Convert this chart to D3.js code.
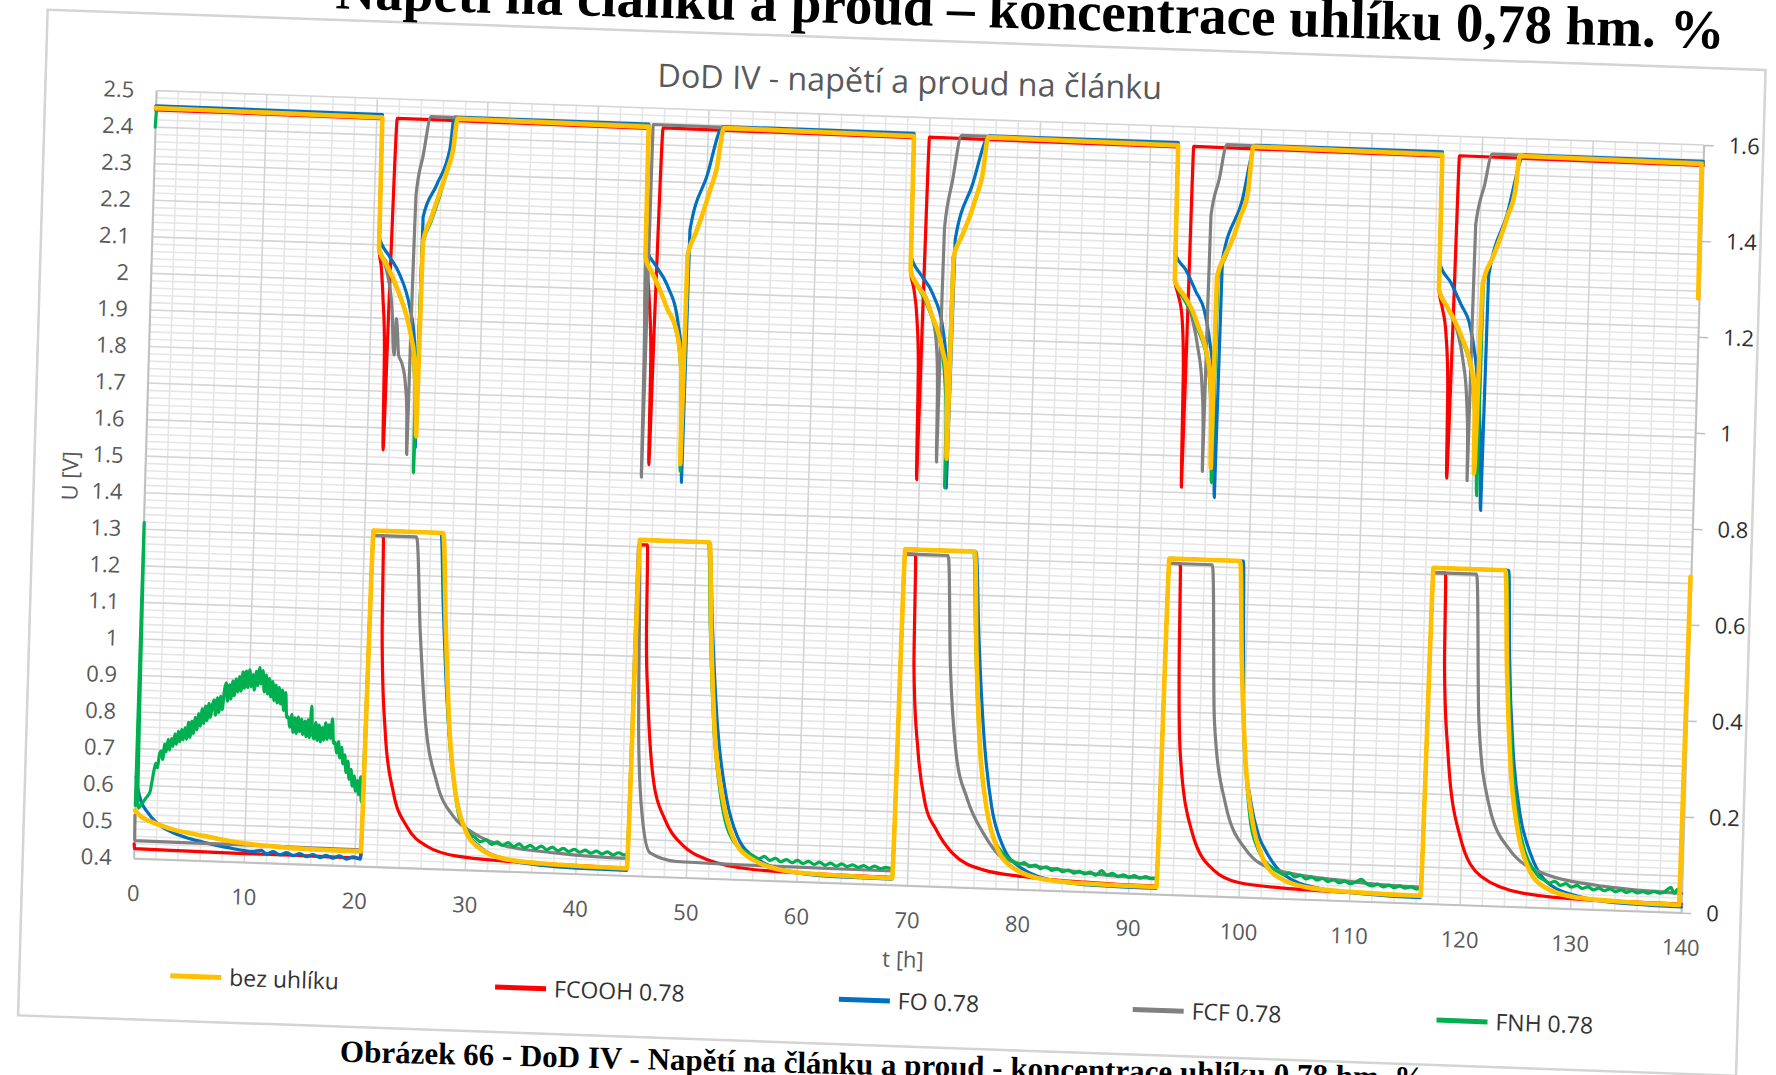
<!DOCTYPE html>
<html><head><meta charset="utf-8">
<script src="https://cdn.jsdelivr.net/npm/d3@7"></script>
<style>html,body{margin:0;padding:0;background:#fff;overflow:hidden}svg{display:block}</style>
</head><body>
<svg id="c" width="1776" height="1075"></svg>
<script>
// ---------------- DATA ----------------
const seriesNames = ["bez uhlíku","FCOOH 0.78","FO 0.78","FCF 0.78","FNH 0.78"];
const seriesColors = ["#FFC000","#FF0000","#0070C0","#808080","#00B050"];
const tTicks = [0,10,20,30,40,50,60,70,80,90,100,110,120,130,140];
const uTicks = [0.4,0.5,0.6,0.7,0.8,0.9,1.0,1.1,1.2,1.3,1.4,1.5,1.6,1.7,1.8,1.9,2.0,2.1,2.2,2.3,2.4,2.5];
const uTickLabels = ["0.4","0.5","0.6","0.7","0.8","0.9","1","1.1","1.2","1.3","1.4","1.5","1.6","1.7","1.8","1.9","2","2.1","2.2","2.3","2.4","2.5"];
const iTicks = [0,0.2,0.4,0.6,0.8,1.0,1.2,1.4,1.6];
const iTickLabels = ["0","0.2","0.4","0.6","0.8","1","1.2","1.4","1.6"];
const chartTitle = "DoD IV - napětí a proud na článku";
const xTitle = "t [h]";
const yTitle = "U [V]";
const pageHeading = "Napětí na článku a proud – koncentrace uhlíku 0,78 hm. %";
const pageCaption = "Obrázek 66 - DoD IV - Napětí na článku a proud - koncentrace uhlíku 0,78 hm. %";

// voltage U [V] (left axis): [t h, U]
const uBez = [[0,2.452],[20.5,2.448],[20.55,2.09],[21.2,2.05],[21.9,2.01],[22.6,1.96],[23.2,1.91],[23.7,1.85],[24.0,1.80],[24.2,1.72],[24.35,1.62],[24.4,1.58],[24.5,2.11],[25.2,2.18],[25.9,2.25],[26.5,2.31],[27.0,2.37],[27.3,2.452],
[44.6,2.448],[44.65,2.09],[45.3,2.05],[46.1,2.00],[46.8,1.95],[47.6,1.90],[48.0,1.84],[48.2,1.78],[48.3,1.68],[48.35,1.53],[48.45,2.10],[49.1,2.16],[49.75,2.22],[50.3,2.28],[50.85,2.34],[51.4,2.452],
[68.6,2.448],[68.65,2.08],[69.3,2.04],[70.05,2.01],[70.7,1.96],[71.35,1.91],[71.8,1.86],[72.1,1.82],[72.3,1.72],[72.4,1.57],[72.5,2.12],[73.2,2.18],[73.8,2.23],[74.4,2.29],[74.9,2.35],[75.3,2.452],
[92.5,2.448],[92.55,2.08],[93.4,2.04],[94.2,2.00],[94.8,1.955],[95.4,1.91],[95.8,1.86],[96.0,1.82],[96.2,1.72],[96.3,1.57],[96.35,2.09],[97.0,2.15],[97.7,2.20],[98.3,2.26],[98.9,2.32],[99.3,2.452],
[116.4,2.448],[116.45,2.08],[117.3,2.03],[118.05,1.99],[118.8,1.94],[119.5,1.88],[119.8,1.83],[120.0,1.75],[120.1,1.58],[120.4,2.10],[121.2,2.17],[121.9,2.23],[122.5,2.29],[123.1,2.36],[123.4,2.452],
[139.85,2.448],[139.9,2.08]];
const uFCOOH = [[0,2.447],[20.5,2.445],[20.55,2.09],[20.8,2.04],[21.05,1.95],[21.3,1.82],[21.45,1.54],[21.6,1.95],[21.85,2.447],
[44.6,2.444],[44.65,2.09],[44.9,2.04],[45.15,1.96],[45.4,1.82],[45.5,1.525],[45.65,1.95],[45.9,2.447],
[68.6,2.444],[68.65,2.08],[69.0,2.03],[69.35,1.95],[69.6,1.82],[69.75,1.51],[69.85,1.95],[70.0,2.447],
[92.5,2.444],[92.55,2.08],[92.9,2.04],[93.3,1.98],[93.55,1.85],[93.7,1.515],[93.8,1.95],[93.9,2.447],
[116.4,2.444],[116.45,2.08],[116.8,2.03],[117.2,1.96],[117.5,1.82],[117.65,1.565],[117.8,1.95],[117.95,2.447],
[140,2.444]];
const uFO = [[0,2.458],[20.5,2.456],[20.55,2.12],[21.5,2.07],[22.5,2.02],[23.5,1.93],[24.0,1.84],[24.25,1.72],[24.35,1.55],[24.45,2.18],[25.6,2.27],[26.7,2.37],[27.0,2.456],
[44.6,2.456],[44.65,2.12],[45.6,2.07],[46.65,2.02],[47.8,1.91],[48.2,1.82],[48.4,1.70],[48.5,1.48],[48.6,2.17],[50.0,2.32],[51.3,2.456],
[68.6,2.456],[68.65,2.12],[69.6,2.07],[70.7,2.02],[71.8,1.91],[72.15,1.82],[72.35,1.70],[72.45,1.49],[72.6,2.17],[74.0,2.32],[75.4,2.456],
[92.5,2.456],[92.55,2.15],[93.5,2.11],[94.5,2.05],[95.3,2.0],[95.9,1.91],[96.3,1.82],[96.55,1.68],[96.7,1.49],[96.8,2.14],[98.4,2.30],[99.5,2.456],
[116.4,2.456],[116.45,2.15],[117.5,2.1],[118.5,2.04],[119.3,1.99],[119.9,1.9],[120.3,1.8],[120.6,1.66],[120.8,1.48],[120.9,2.12],[122.4,2.29],[123.8,2.456],
[140,2.455]];
const uFCF = [[0,2.452],[20.5,2.45],[20.55,2.09],[21.3,2.03],[21.9,1.92],[22.1,1.82],[22.2,1.80],[22.3,1.90],[22.45,1.86],[22.6,1.80],[22.9,1.78],[23.3,1.72],[23.5,1.64],[23.6,1.53],[23.65,1.90],[23.7,2.10],[23.75,2.24],[24.3,2.35],[24.9,2.455],
[44.6,2.452],[44.65,2.10],[44.8,1.80],[44.87,1.49],[44.93,2.0],[45.0,2.455],
[68.6,2.452],[68.65,2.08],[69.4,2.04],[70.1,2.01],[70.7,1.96],[71.2,1.875],[71.4,1.75],[71.5,1.56],[71.55,1.95],[71.6,2.2],[72.2,2.33],[72.9,2.455],
[92.5,2.452],[92.55,2.08],[93.3,2.04],[94.2,1.98],[94.8,1.90],[95.3,1.79],[95.5,1.68],[95.55,1.56],[95.6,2.0],[95.65,2.26],[96.3,2.36],[96.9,2.455],
[116.4,2.452],[116.45,2.08],[117.3,2.03],[118.2,1.97],[118.8,1.89],[119.25,1.78],[119.45,1.66],[119.5,1.56],[119.55,2.0],[119.6,2.26],[120.3,2.37],[120.9,2.455],
[140,2.452]];
const uFNH = [[0,2.40],[0.1,2.452],[20.5,2.45],[20.55,2.09],[21.3,2.05],[22.0,2.0],[22.7,1.95],[23.3,1.9],[23.75,1.84],[24.05,1.76],[24.2,1.66],[24.25,1.48],[24.3,1.62],[24.45,2.1],[25.2,2.17],[25.9,2.24],[26.5,2.31],[27.0,2.37],[27.3,2.452],
[44.6,2.45],[44.65,2.09],[45.3,2.05],[46.1,2.0],[46.8,1.95],[47.6,1.895],[48.0,1.83],[48.2,1.75],[48.3,1.65],[48.35,1.51],[48.45,2.1],[49.1,2.16],[49.75,2.22],[50.3,2.28],[50.85,2.34],[51.4,2.452],
[68.6,2.45],[68.65,2.08],[69.3,2.04],[70.05,2.0],[70.7,1.955],[71.35,1.9],[71.8,1.85],[72.05,1.78],[72.25,1.68],[72.3,1.49],[72.45,2.12],[73.2,2.18],[73.8,2.23],[74.4,2.29],[74.9,2.35],[75.3,2.452],
[92.5,2.45],[92.55,2.08],[93.4,2.03],[94.2,1.99],[94.8,1.945],[95.4,1.9],[95.8,1.85],[96.05,1.78],[96.25,1.68],[96.4,1.53],[96.45,2.09],[97.1,2.15],[97.7,2.2],[98.3,2.26],[98.9,2.33],[99.3,2.452],
[116.4,2.45],[116.45,2.08],[117.3,2.03],[118.05,1.985],[118.8,1.935],[119.5,1.87],[119.85,1.8],[120.1,1.7],[120.3,1.6],[120.4,1.52],[120.45,2.1],[121.2,2.17],[121.9,2.23],[122.5,2.29],[123.1,2.36],[123.4,2.452],
[140,2.45]];

// current I (right axis): [t h, I]
const iBez = [[0,0.10],[0.5,0.088],[1.4,0.078],[2.4,0.07],[3.5,0.0625],[5,0.056],[6.5,0.051],[8,0.045],[9.6,0.040],[11,0.037],[12.6,0.035],[14,0.033],[15.6,0.032],[18,0.031],[20.5,0.031],[20.8,0.70],
[27.1,0.70],[27.6,0.50],[28.2,0.29],[28.9,0.16],[29.8,0.088],[31.3,0.045],[33.7,0.025],[37,0.019],[41,0.016],[44.6,0.015],[44.9,0.70],
[51.2,0.70],[51.6,0.51],[52.2,0.30],[53.1,0.165],[54.2,0.083],[56,0.042],[59.5,0.02],[63,0.016],[68.6,0.014],[68.9,0.70],
[75.2,0.70],[75.6,0.50],[76.2,0.29],[77.0,0.16],[78.0,0.085],[79.6,0.043],[82.5,0.022],[86,0.017],[92.5,0.015],[92.8,0.70],
[99.2,0.70],[99.6,0.50],[100.2,0.29],[101.0,0.16],[102.0,0.085],[103.6,0.043],[106.5,0.024],[110,0.019],[116.4,0.016],[116.7,0.70],
[123.2,0.70],[123.6,0.50],[124.2,0.29],[125.0,0.16],[126.0,0.085],[127.6,0.043],[130.5,0.024],[134,0.019],[139.8,0.016],[139.95,0.70]];
const iFCOOH = [[0,0.03],[0.05,0.02],[5,0.019],[10,0.018],[15,0.018],[20.5,0.017],[20.8,0.69],
[21.7,0.69],[21.85,0.49],[22.4,0.28],[23.3,0.155],[24.6,0.086],[26.5,0.046],[29.2,0.028],[33.7,0.021],[38,0.018],[44.6,0.016],[44.9,0.69],
[45.6,0.69],[45.75,0.50],[46.05,0.37],[46.8,0.195],[47.9,0.12],[49.7,0.065],[51.85,0.039],[56,0.022],[61,0.018],[68.6,0.016],[68.9,0.69],
[69.85,0.69],[70.0,0.46],[70.6,0.28],[71.4,0.17],[72.4,0.12],[74,0.07],[76.8,0.038],[80.3,0.027],[86,0.02],[92.5,0.017],[92.8,0.69],
[93.8,0.69],[93.95,0.5],[94.3,0.296],[95.6,0.13],[97.6,0.055],[100,0.03],[104,0.022],[110,0.018],[116.4,0.016],[116.7,0.69],
[117.8,0.69],[117.95,0.5],[118.5,0.315],[119.8,0.143],[121.8,0.061],[125.6,0.029],[131.2,0.02],[140,0.018]];
const iFO = [[0,0.17],[0.15,0.15],[0.5,0.12],[1.05,0.099],[2,0.075],[3.5,0.056],[5,0.045],[6.6,0.037],[8.5,0.029],[10.8,0.023],[11.5,0.026],[12,0.019],[12.6,0.024],[13.2,0.018],[13.8,0.023],[14.4,0.017],[15,0.022],[15.6,0.016],[16.2,0.021],[16.8,0.015],[17.4,0.02],[18,0.015],[18.6,0.02],[19.2,0.014],[19.8,0.019],[20.5,0.015],[20.8,0.70],
[26.9,0.70],[27.3,0.55],[27.9,0.35],[28.7,0.19],[29.6,0.10],[31.2,0.05],[33.7,0.025],[37,0.015],[40,0.012],[44.6,0.011],[44.9,0.70],
[51.2,0.70],[51.7,0.52],[52.4,0.32],[53.4,0.17],[54.5,0.09],[56.3,0.045],[59.5,0.02],[63,0.013],[68.6,0.012],[68.9,0.70],
[75.3,0.70],[75.8,0.52],[76.5,0.32],[77.4,0.17],[78.5,0.09],[80.2,0.045],[83.5,0.02],[87,0.014],[92.5,0.012],[92.8,0.70],
[99.5,0.70],[99.7,0.55],[100,0.335],[100.8,0.2],[101.6,0.13],[102.4,0.094],[104,0.05],[107,0.025],[111,0.016],[116.4,0.012],[116.7,0.70],
[123.5,0.70],[123.8,0.52],[124.4,0.32],[125.2,0.19],[126.2,0.113],[127.5,0.06],[130,0.03],[134,0.016],[140,0.012]];
const iFCF = [[0,0.09],[0.05,0.037],[5,0.036],[10,0.036],[15,0.035],[20.5,0.034],[20.8,0.69],
[24.7,0.69],[25.3,0.49],[25.95,0.317],[27.2,0.179],[28.8,0.11],[30.6,0.078],[33.7,0.052],[38,0.042],[44.6,0.036],[44.8,0.69],
[44.85,0.69],[45.3,0.298],[45.85,0.124],[46.65,0.049],[49.1,0.033],[54.3,0.031],[60,0.03],[68.6,0.029],[68.9,0.69],
[72.8,0.69],[73.3,0.459],[74.0,0.286],[75.2,0.183],[76.7,0.115],[78.8,0.061],[83.7,0.044],[92.5,0.033],[92.8,0.69],
[96.7,0.69],[97.3,0.367],[98.5,0.195],[100.5,0.099],[103.1,0.06],[108.8,0.043],[116.4,0.034],[116.7,0.69],
[120.6,0.69],[121.2,0.387],[122.3,0.214],[124.3,0.119],[127.4,0.072],[133,0.049],[140,0.04]];
const iFNH = [[0,0.11],[0.06,0.70],[0.12,0.40],[0.2,0.12],[0.3,0.105],[0.5,0.112],[0.7,0.118],[0.9,0.125],[1.1,0.131],[1.3,0.14],[1.45,0.162],[1.6,0.185],[1.75,0.2],[1.9,0.19],[2.05,0.218],[2.2,0.225],[2.35,0.208],[2.5,0.24],[2.65,0.224],[2.8,0.25],[2.95,0.228],[3.1,0.252],[3.25,0.236],[3.4,0.262],[3.55,0.24],[3.7,0.268],[3.85,0.246],[4.0,0.272],[4.15,0.25],[4.3,0.276],[4.45,0.252],[4.6,0.287],[4.75,0.256],[4.9,0.29],[5.05,0.264],[5.2,0.298],[5.35,0.272],[5.5,0.306],[5.65,0.28],[5.8,0.316],[5.95,0.286],[6.1,0.322],[6.25,0.292],[6.4,0.328],[6.55,0.299],[6.7,0.324],[6.85,0.336],[7.0,0.304],[7.15,0.34],[7.3,0.31],[7.45,0.344],[7.6,0.316],[7.75,0.356],[7.9,0.372],[8.05,0.334],[8.2,0.368],[8.35,0.339],[8.5,0.376],[8.65,0.346],[8.8,0.381],[8.95,0.354],[9.1,0.386],[9.25,0.356],[9.4,0.396],[9.55,0.362],[9.7,0.398],[9.85,0.364],[10.0,0.401],[10.15,0.366],[10.3,0.391],[10.45,0.359],[10.6,0.398],[10.75,0.369],[10.9,0.406],[11.05,0.372],[11.2,0.4],[11.35,0.356],[11.5,0.391],[11.65,0.352],[11.8,0.384],[11.95,0.346],[12.1,0.378],[12.25,0.339],[12.4,0.371],[12.55,0.334],[12.7,0.366],[12.85,0.332],[13.0,0.361],[13.15,0.319],[13.3,0.356],[13.45,0.304],[13.6,0.306],[13.75,0.284],[13.9,0.311],[14.05,0.274],[14.2,0.304],[14.35,0.272],[14.5,0.306],[14.65,0.276],[14.8,0.302],[14.95,0.27],[15.1,0.298],[15.25,0.266],[15.4,0.301],[15.55,0.264],[15.7,0.33],[15.8,0.276],[15.95,0.262],[16.1,0.296],[16.25,0.259],[16.4,0.291],[16.55,0.256],[16.7,0.286],[16.85,0.26],[17.0,0.296],[17.15,0.262],[17.3,0.292],[17.45,0.264],[17.6,0.305],[17.75,0.254],[17.9,0.256],[18.05,0.234],[18.2,0.258],[18.35,0.224],[18.5,0.246],[18.65,0.212],[18.8,0.231],[18.95,0.194],[19.1,0.218],[19.25,0.18],[19.4,0.201],[19.55,0.166],[19.7,0.188],[19.85,0.156],[20.0,0.178],[20.15,0.149],[20.3,0.186],[20.4,0.134],[20.5,0.15],[20.8,0.70],
[27.0,0.70],[27.5,0.52],[28.1,0.3],[28.8,0.17],[29.3,0.11],[29.8,0.09],[30.3,0.075],[30.8,0.068],[31.3,0.06],[31.8,0.064],[32.3,0.055],[32.8,0.061],[33.3,0.054],[33.8,0.06],[34.3,0.052],[34.8,0.058],[35.3,0.05],[35.8,0.056],[36.3,0.049],[36.8,0.055],[37.3,0.048],[37.8,0.054],[38.3,0.047],[38.8,0.052],[39.3,0.046],[39.8,0.051],[40.3,0.045],[40.8,0.05],[41.3,0.044],[41.8,0.049],[42.3,0.043],[42.8,0.048],[43.3,0.042],[43.8,0.047],[44.3,0.043],[44.6,0.045],[44.9,0.70],
[51.1,0.70],[51.5,0.52],[52.1,0.31],[52.9,0.17],[53.5,0.11],[54.0,0.085],[54.5,0.07],[55.0,0.062],[55.5,0.055],[56.0,0.05],[56.5,0.045],[57.0,0.05],[57.5,0.042],[58.0,0.047],[58.5,0.04],[59.0,0.045],[59.5,0.039],[60.0,0.044],[60.5,0.038],[61.0,0.043],[61.5,0.037],[62.0,0.042],[62.5,0.036],[63.0,0.041],[63.5,0.035],[64.0,0.04],[64.5,0.035],[65.0,0.039],[65.5,0.034],[66.0,0.038],[66.5,0.033],[67.0,0.038],[67.5,0.033],[68.0,0.036],[68.6,0.034],[68.9,0.70],
[75.1,0.70],[75.5,0.52],[76.1,0.31],[76.9,0.17],[77.5,0.115],[78.0,0.09],[78.5,0.075],[79.0,0.065],[79.5,0.058],[80.0,0.052],[80.5,0.056],[81.0,0.048],[81.5,0.052],[82.0,0.045],[82.5,0.049],[83.0,0.042],[83.5,0.046],[84.0,0.04],[84.5,0.044],[85.0,0.038],[85.5,0.042],[86.0,0.037],[86.5,0.041],[87.0,0.035],[87.5,0.045],[88.0,0.036],[88.5,0.04],[89.0,0.034],[89.5,0.038],[90.0,0.033],[90.5,0.037],[91.0,0.032],[91.5,0.036],[92.0,0.032],[92.5,0.034],[92.8,0.70],
[99.2,0.70],[99.6,0.52],[100.1,0.32],[100.8,0.162],[101.6,0.1],[102.4,0.073],[103.0,0.062],[103.5,0.055],[104.0,0.05],[104.5,0.054],[105.0,0.046],[105.5,0.05],[106.0,0.043],[106.5,0.047],[107.0,0.041],[107.5,0.045],[108.0,0.039],[108.5,0.043],[109.0,0.037],[109.5,0.041],[110.0,0.036],[110.5,0.04],[111.0,0.046],[111.5,0.037],[112.0,0.033],[112.5,0.037],[113.0,0.032],[113.5,0.036],[114.0,0.031],[114.5,0.035],[115.0,0.031],[115.5,0.034],[116.0,0.03],[116.4,0.033],[116.7,0.70],
[123.3,0.70],[123.7,0.52],[124.3,0.31],[125.1,0.17],[125.8,0.11],[126.5,0.08],[127.0,0.065],[127.5,0.058],[128.0,0.052],[128.5,0.056],[129.0,0.048],[129.5,0.052],[130.0,0.045],[130.5,0.049],[131.0,0.043],[131.5,0.047],[132.0,0.041],[132.5,0.045],[133.0,0.04],[133.5,0.044],[134.0,0.039],[134.5,0.043],[135.0,0.038],[135.5,0.042],[136.0,0.038],[136.5,0.041],[137.0,0.038],[137.5,0.042],[138.0,0.039],[138.5,0.043],[139.0,0.052],[139.3,0.04],[139.6,0.048],[139.9,0.04]];

const voltSeries = [uBez,uFCOOH,uFO,uFCF,uFNH];
const currSeries = [iBez,iFCOOH,iFO,iFCF,iFNH];
const drawOrder = [1,2,3,4,0];

// ---------------- LAYOUT ----------------
const PW = 1548.4, PH = 768;
const svg = d3.select("#c");
svg.append("rect").attr("width",1776).attr("height",1075).attr("fill","#fff");
const g = svg.append("g").attr("transform","matrix(0.9994,0.0351,-0.0294,0.9996,156.3,90.6)");

const FONT = "'Open Sans', Lato, sans-serif";
const x = d3.scaleLinear().domain([0,140]).range([0,PW]);
const yU = d3.scaleLinear().domain([0.4,2.5]).range([PH,0]);
const yI = d3.scaleLinear().domain([0,1.6]).range([PH,0]);

// frame
g.append("rect").attr("x",-111).attr("y",-77).attr("width",1719).attr("height",1006)
 .attr("fill","none").attr("stroke","#d4d4d4").attr("stroke-width",2.5);

// heading (cut by page top, as in the source photo)
g.append("text").text(pageHeading).attr("x",1566).attr("y",-97)
 .attr("text-anchor","end").attr("font-family","'Liberation Serif', serif").attr("font-weight","bold")
 .attr("font-size",55).attr("fill","#000").attr("transform","rotate(-0.35,1566,-97)");

// chart title
g.append("text").text(chartTitle).attr("x",753).attr("y",-24).attr("text-anchor","middle")
 .attr("font-family",FONT).attr("font-size",32.3).attr("fill","#595959").attr("transform","rotate(-0.6,753,-24)");

// grid
const minorT = d3.range(0,141,2).filter(v=>v%10!==0);
const minorU = d3.range(0,106).map(k=>0.4+k*0.02).filter((v,k)=>k%5!==0);
const grid = g.append("g");
grid.selectAll(".mh").data(minorU).join("line").attr("x1",0).attr("x2",PW)
 .attr("y1",d=>yU(d)).attr("y2",d=>yU(d)).attr("stroke","#e6e6e6").attr("stroke-width",1.6);
grid.selectAll(".mv").data(minorT).join("line").attr("y1",0).attr("y2",PH)
 .attr("x1",d=>x(d)).attr("x2",d=>x(d)).attr("stroke","#e6e6e6").attr("stroke-width",1.6);
grid.selectAll(".Mh").data(uTicks).join("line").attr("x1",0).attr("x2",PW)
 .attr("y1",d=>yU(d)).attr("y2",d=>yU(d)).attr("stroke","#d4d4d4").attr("stroke-width",1.6);
grid.selectAll(".Mv").data(tTicks).join("line").attr("y1",0).attr("y2",PH)
 .attr("x1",d=>x(d)).attr("x2",d=>x(d)).attr("stroke","#d4d4d4").attr("stroke-width",1.6);

// axes
function styleAxis(sel, color){
  sel.attr("font-family",FONT).attr("font-size",22);
  sel.selectAll("text").attr("fill",color);
  sel.select(".domain").attr("stroke","#bfbfbf").attr("stroke-width",1.8);
  sel.selectAll(".tick line").attr("stroke","#bfbfbf").attr("stroke-width",1.5);
}
const axL = g.append("g").call(d3.axisLeft(yU).tickValues(uTicks).tickFormat((d,i)=>uTickLabels[i]).tickSize(0).tickSizeOuter(0).tickPadding(22));
styleAxis(axL,"#595959");
const axB = g.append("g").attr("transform",`translate(0,${PH})`).call(d3.axisBottom(x).tickValues(tTicks).tickFormat(d=>String(d)).tickSize(0).tickSizeOuter(0).tickPadding(27));
styleAxis(axB,"#595959");
const axR = g.append("g").attr("transform",`translate(${PW},0)`).call(d3.axisRight(yI).tickValues(iTicks).tickFormat((d,i)=>iTickLabels[i]).tickSize(10).tickSizeOuter(0).tickPadding(15));
styleAxis(axR,"#303030");

// axis titles
g.append("text").text(xTitle).attr("x",772).attr("y",850).attr("text-anchor","middle")
 .attr("font-family",FONT).attr("font-size",22).attr("fill","#595959");
g.append("text").text(yTitle).attr("transform","translate(-67,388) rotate(-90)").attr("text-anchor","middle")
 .attr("font-family",FONT).attr("font-size",22).attr("fill","#595959");

// series
const lineU = d3.line().x(d=>x(d[0])).y(d=>yU(d[1])).curve(d3.curveMonotoneX);
const lineI = d3.line().x(d=>x(d[0])).y(d=>yI(d[1])).curve(d3.curveMonotoneX);
const plot = g.append("g");
drawOrder.forEach(k=>{
  const w = k===0 ? 4.6 : 3.2;
  plot.append("path").attr("d",lineI(currSeries[k])).attr("fill","none").attr("stroke",seriesColors[k])
   .attr("stroke-width",w).attr("stroke-linejoin","round").attr("stroke-linecap","round");
  plot.append("path").attr("d",lineU(voltSeries[k])).attr("fill","none").attr("stroke",seriesColors[k])
   .attr("stroke-width",w).attr("stroke-linejoin","round").attr("stroke-linecap","round");
});

// legend
const legendU = [40,365,709,1003,1307];
const lg = g.append("g");
seriesNames.forEach((n,k)=>{
  lg.append("line").attr("x1",legendU[k]).attr("x2",legendU[k]+51).attr("y1",884).attr("y2",884)
    .attr("stroke",seriesColors[k]).attr("stroke-width",5);
  lg.append("text").text(n).attr("x",legendU[k]+59).attr("y",884).attr("dy","0.35em")
    .attr("font-family",FONT).attr("font-size",23).attr("fill","#333");
});

// caption (cut by page bottom, as in the source photo)
g.append("text").text(pageCaption).attr("x",212).attr("y",964)
 .attr("font-family","'Liberation Serif', serif").attr("font-weight","bold").attr("font-size",31)
 .attr("fill","#000").attr("transform","rotate(-0.6,212,964)");
</script>
</body></html>
